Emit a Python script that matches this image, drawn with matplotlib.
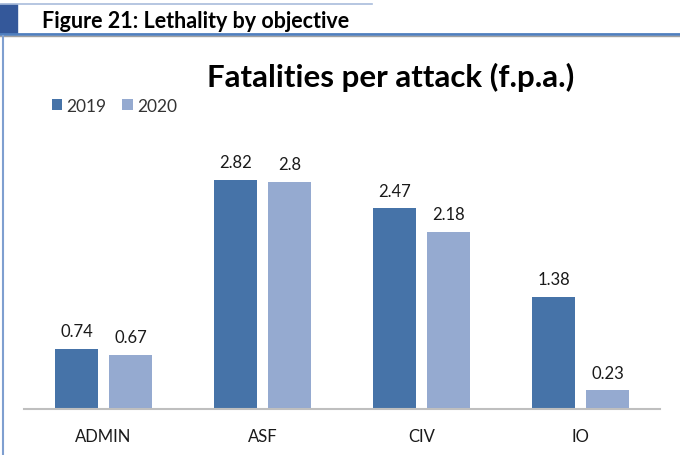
import matplotlib.pyplot as plt
from matplotlib.lines import Line2D
from matplotlib.patches import Rectangle
import numpy as np

categories = ["ADMIN", "ASF", "CIV", "IO"]
values_2019 = [0.74, 2.82, 2.47, 1.38]
values_2020 = [0.67, 2.8, 2.18, 0.23]
series_names = ["2019", "2020"]

color_2019 = "#4673a8"
color_2020 = "#95aad0"

plt.rcParams["font.family"] = ["Lato", "DejaVu Sans"]

fig = plt.figure(figsize=(6.8, 4.56), dpi=100)

# header strip
fig.patches.append(Rectangle((0, 1 - 35 / 456), 17 / 680, 30 / 456, transform=fig.transFigure,
                             color="#34589a", zorder=1))
fig.add_artist(Line2D([0, 372 / 680], [1 - 4.5 / 456] * 2, transform=fig.transFigure,
                      color="#a9bcdc", lw=1.2))
fig.add_artist(Line2D([0, 1], [1 - 35 / 456] * 2, transform=fig.transFigure,
                      color="#4f7fbf", lw=2))
fig.add_artist(Line2D([0, 1], [1 - 37 / 456] * 2, transform=fig.transFigure,
                      color="#a0a0a0", lw=1))
fig.add_artist(Line2D([3 / 680] * 2, [0, 1 - 37 / 456], transform=fig.transFigure,
                      color="#7f9fd0", lw=1.5))
fig.text(42 / 680, 1 - 21 / 456, "Figure 21: Lethality by objective", fontsize=15.5,
         fontweight="bold", va="center", ha="left", color="black")

fig.text(391 / 680, 1 - 77 / 456, "Fatalities per attack (f.p.a.)", fontsize=22.5,
         fontweight="bold", va="center", ha="center", color="black")

ax = fig.add_axes([24 / 680, 46 / 456, 636 / 680, 284 / 456])
x = np.arange(len(categories))
w = 0.265
off = 0.17
b1 = ax.bar(x - off, values_2019, w, color=color_2019, label=series_names[0])
b2 = ax.bar(x + off, values_2020, w, color=color_2020, label=series_names[1])

for bars, vals in [(b1, values_2019), (b2, values_2020)]:
    for rect, v in zip(bars, vals):
        ax.annotate("%g" % v, (rect.get_x() + rect.get_width() / 2, v),
                    xytext=(0, 7), textcoords="offset points", ha="center", va="bottom",
                    fontsize=12, color="#1a1a1a")

ax.set_xlim(-0.5, len(categories) - 0.5)
ax.set_ylim(0, 284 / 81.2)
ax.set_xticks(x)
ax.set_xticklabels(categories, fontsize=12, color="#1a1a1a")
ax.tick_params(axis="x", length=0, pad=14)
ax.set_yticks([])
for s in ["top", "right", "left"]:
    ax.spines[s].set_visible(False)
ax.spines["bottom"].set_color("#bfbfbf")
ax.spines["bottom"].set_linewidth(1.5)

ax.legend(loc="center left", bbox_to_anchor=(36 / 680, 1 - 107 / 456),
          bbox_transform=fig.transFigure, ncol=2, frameon=False,
          fontsize=12.5, handlelength=0.6, handleheight=0.6, handletextpad=0.25,
          columnspacing=0.9, labelcolor="#333333")

fig.savefig("out.png", dpi=100)
